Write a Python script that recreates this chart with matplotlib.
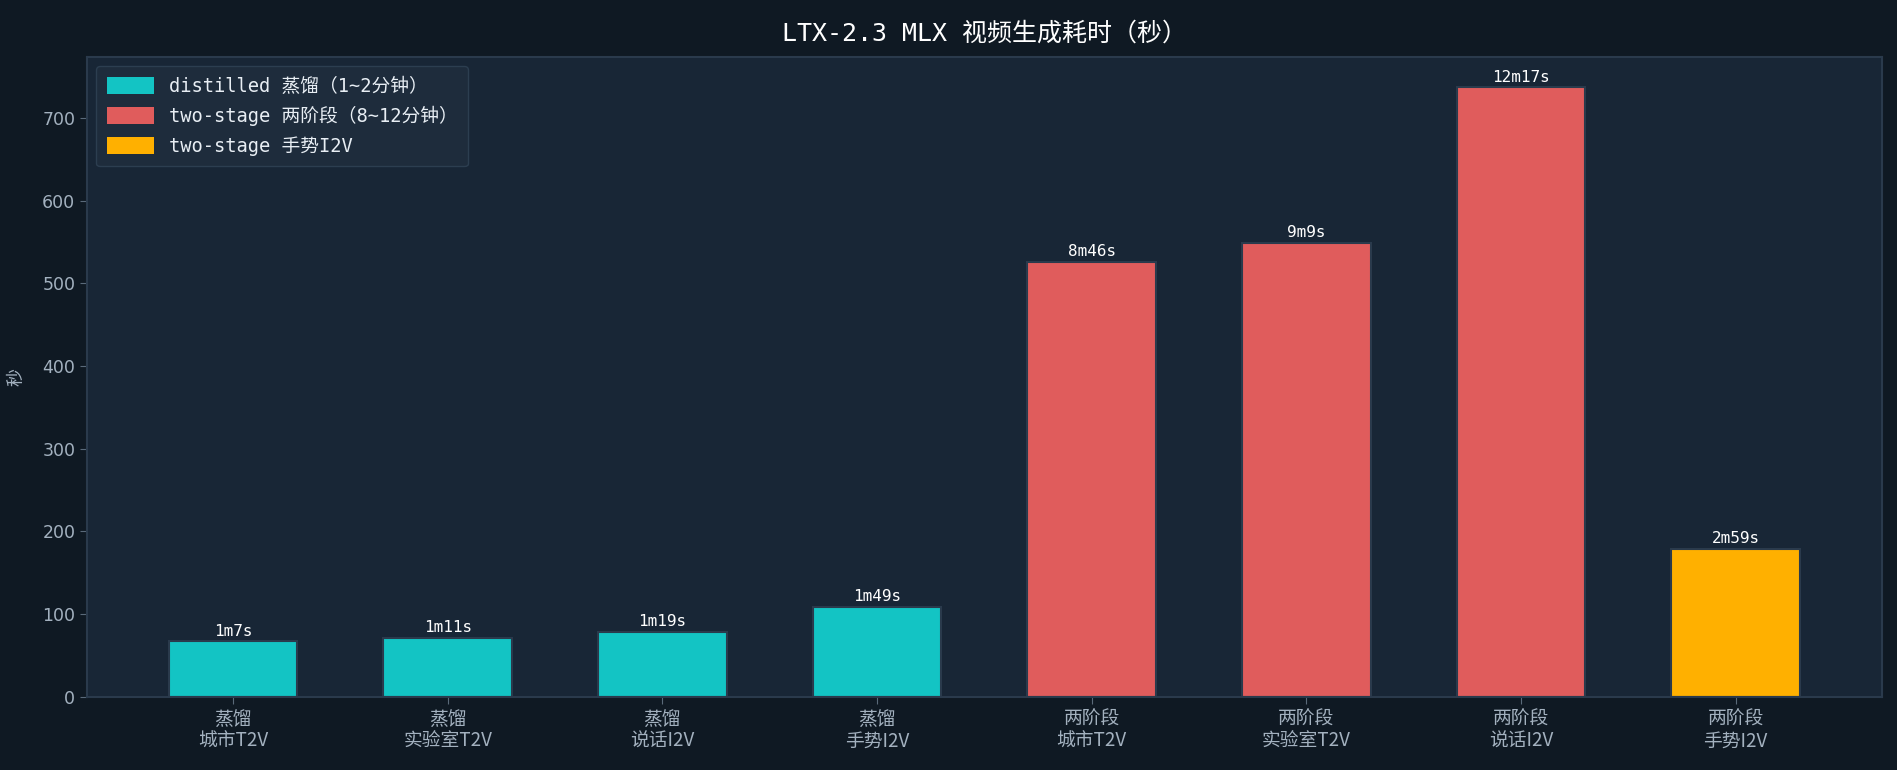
import matplotlib
matplotlib.use("Agg")
import matplotlib.pyplot as plt
from matplotlib.patches import Patch

categories = ["蒸馏\n城市T2V", "蒸馏\n实验室T2V", "蒸馏\n说话I2V", "蒸馏\n手势I2V",
              "两阶段\n城市T2V", "两阶段\n实验室T2V", "两阶段\n说话I2V", "两阶段\n手势I2V"]
seconds = [67, 71, 79, 109, 526, 549, 737, 179]
labels = ["1m7s", "1m11s", "1m19s", "1m49s", "8m46s", "9m9s", "12m17s", "2m59s"]
groups = ["distilled", "distilled", "distilled", "distilled",
          "two-stage", "two-stage", "two-stage", "gesture"]
legend_labels = ["distilled 蒸馏（1~2分钟）", "two-stage 两阶段（8~12分钟）", "two-stage 手势I2V"]

colors = {"distilled": "#13c4c4", "two-stage": "#e05c5c", "gesture": "#ffb000"}
FIG_BG = "#0f1923"
AX_BG = "#182636"
EDGE = "#2a3a4c"
TICK = "#a3b1bf"
MONO = ["DejaVu Sans Mono", "Noto Sans CJK SC"]
CJK = ["Noto Sans CJK SC", "DejaVu Sans"]

fig = plt.figure(figsize=(18.97, 7.7), dpi=100, facecolor=FIG_BG)
ax = fig.add_axes([0.0459, 0.095, 0.946, 0.831])
ax.set_facecolor(AX_BG)

x = list(range(len(categories)))
bar_colors = [colors[g] for g in groups]
bars = ax.bar(x, seconds, width=0.6, color=bar_colors, edgecolor=EDGE, linewidth=1.5)

for b, lab in zip(bars, labels):
    ax.annotate(lab, (b.get_x() + b.get_width() / 2, b.get_height()),
                xytext=(0, 2), textcoords="offset points", ha="center", va="bottom",
                color="white", fontsize=11.5, family=MONO)

ax.set_xticks(x)
ax.set_xticklabels(categories, family=CJK, fontsize=13.5, color=TICK, linespacing=1.05)
ax.tick_params(axis="y", colors=TICK, labelsize=12.5)
ax.tick_params(axis="x", colors=TICK)
ax.tick_params(axis="both", color="#5a6a7a", length=5)
for s in ax.spines.values():
    s.set_color(EDGE)
    s.set_linewidth(1.5)

ax.set_ylabel("秒", family=CJK, fontsize=13, color=TICK, labelpad=12)
ax.set_title("LTX-2.3 MLX 视频生成耗时（秒）", family=MONO, fontsize=18, color="white", pad=12)

handles = [Patch(facecolor=colors[k]) for k in ["distilled", "two-stage", "gesture"]]
leg = ax.legend(handles, legend_labels, loc="upper left", frameon=True,
                prop={"family": MONO, "size": 13.5}, facecolor="#1e2c3c", edgecolor="#2c3e50",
                framealpha=1.0, handlelength=2.5, handleheight=1.0, labelspacing=0.55,
                borderpad=0.55)
for t in leg.get_texts():
    t.set_color("#e8eef4")

fig.savefig("out.png", dpi=100, facecolor=FIG_BG)
